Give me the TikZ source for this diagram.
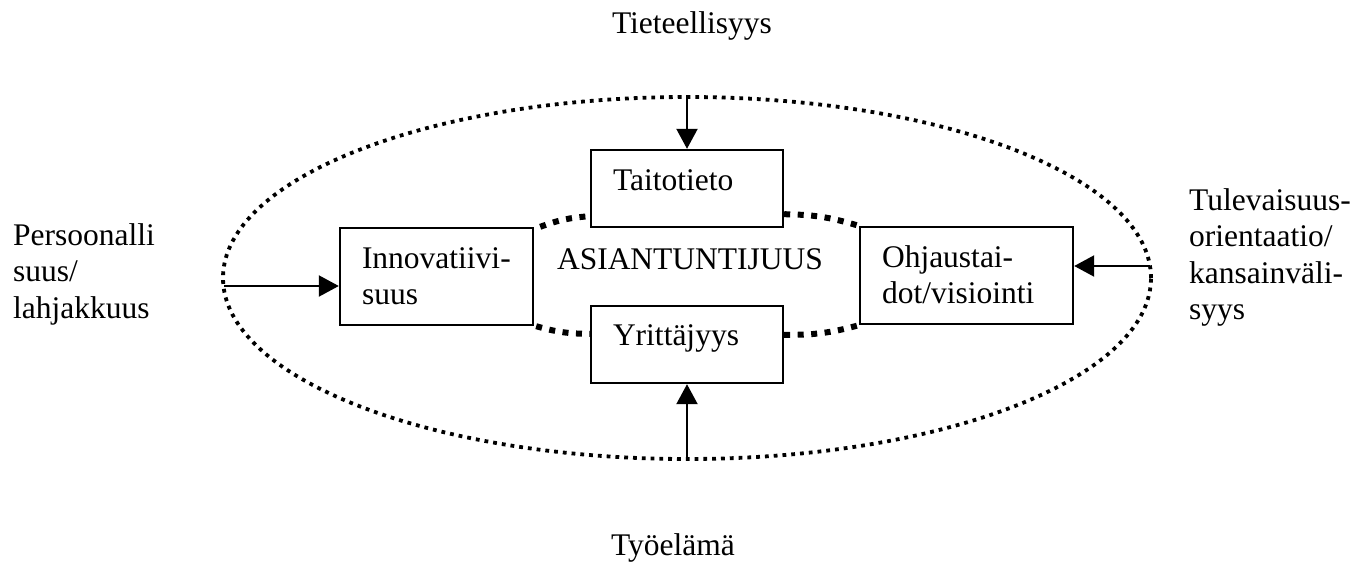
\documentclass[tikz,border=0pt]{standalone}
\usepackage{fontspec}
\setmainfont{Liberation Serif}
\usetikzlibrary{shapes.geometric,arrows.meta}
\begin{document}
\begin{tikzpicture}[x=1pt,y=-1pt,
  every node/.style={font=\fontsize{31.5}{36.5}\selectfont},
  box/.style={draw, line width=2.4pt, fill=white, align=left,
    inner xsep=22pt, inner ysep=0pt, text height=21.5pt},
  arr/.style={line width=2.2pt, -{Triangle[length=20pt,width=21pt]}},
  rim/.style={line width=3.8pt, dash pattern=on 3.8pt off 5pt},
  link/.style={line width=6pt, dash pattern=on 6pt off 7.5pt},
  side/.style={align=left, anchor=base west, inner sep=0pt},
  caption/.style={anchor=base, inner sep=0pt}]
\useasboundingbox (0,0) rectangle (1369,563);

% outer dotted field
\node[rim, draw, ellipse, minimum width=928pt, minimum height=362pt, inner sep=0pt] (field) at (687,278) {};

% the four competence boxes
\node[box, text width=148pt, minimum height=77pt, text depth=18.5pt] (taito) at (687,188.5) {Taitotieto};
\node[box, text width=149pt, minimum height=97pt, text depth=38.5pt] (innov) at (436.5,276.5) {Innovatiivi-\\suus};
\node[box, text width=169pt, minimum height=97pt, text depth=38.5pt] (ohj) at (966.5,275.5) {Ohjaustai-\\dot/visiointi};
\node[box, text width=148pt, minimum height=77pt, text depth=20.5pt] (yrit) at (687,344.5) {Yrittäjyys};

\node[caption] (core) at (690,269) {ASIANTUNTIJUUS};

% thick dotted ring linking the boxes
\draw[link] ([xshift=6pt]innov.north east) to[bend left=8] ([yshift=12pt]taito.south west);
\draw[link] ([yshift=14pt]taito.south east) to[bend left=8] (ohj.north west);
\draw[link] ([xshift=2pt]innov.south east) to[bend right=8] ([yshift=-29pt]yrit.north west);
\draw[link] ([yshift=-30pt]yrit.north east) to[bend right=8] (ohj.south west);

% outside influences
\node[caption] (tiet) at (692,33) {Tieteellisyys};
\node[caption] (tyo) at (673,555) {Työelämä};
\node[side, text width=160pt] (pers) at (13,245) {Persoonalli\\suus/\\lahjakkuus};
\node[side, text width=175pt] (tulev) at (1189,210) {Tulevaisuus-\\orientaatio/\\kansainväli-\\syys};

\coordinate (inL) at (224,286);
\coordinate (inR) at (1150,266);
\draw[arr] (field.north) -- (taito.north);
\draw[arr] (field.south) -- (yrit.south);
\draw[arr] (inL) -- (innov.west |- inL);
\draw[arr] (inR) -- (ohj.east |- inR);
\end{tikzpicture}
\end{document}
